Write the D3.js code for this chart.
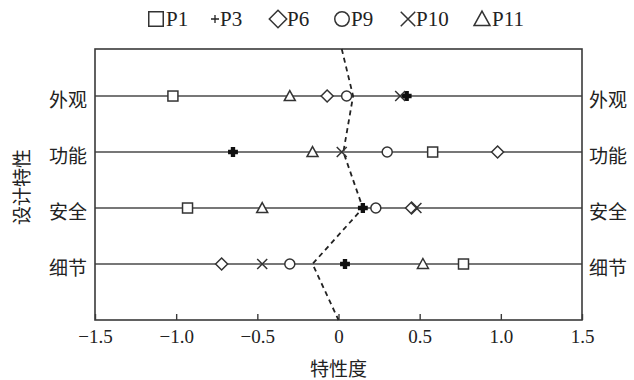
<!DOCTYPE html>
<html>
<head>
<meta charset="utf-8">
<script src="https://cdn.jsdelivr.net/npm/d3@7"></script>
<style>
  body { margin: 0; background: #fff; }
  svg { display: block; }
</style>
</head>
<body>
<div id="chart"></div>
<script>
const categories = ['外观', '功能', '安全', '细节'];
const seriesNames = ['P1', 'P3', 'P6', 'P9', 'P10', 'P11'];
const p1 = [-1.02, 0.58, -0.93, 0.77];
const p3 = [0.42, -0.65, 0.15, 0.04];
const p6 = [-0.07, 0.98, 0.45, -0.72];
const p9 = [0.05, 0.30, 0.23, -0.30];
const p10 = [0.38, 0.02, 0.48, -0.47];
const p11 = [-0.30, -0.16, -0.47, 0.52];
// dashed reference line: top edge, four rows, bottom edge
const dashValues = [0.02, 0.09, 0.03, 0.15, -0.16, 0.0];
const xTicks = [-1.5, -1.0, -0.5, 0, 0.5, 1.0, 1.5];
const xTickLabels = ['\u22121.5', '\u22121.0', '\u22120.5', '0', '0.5', '1.0', '1.5'];

const seriesValues = [p1, p3, p6, p9, p10, p11];
const symbols = ['square', 'plus', 'diamond', 'circle', 'cross', 'triangle'];

const width = 634, height = 380;
const margin = { top: 49, right: 52, bottom: 60, left: 95 };

const serif = '"Liberation Serif", "Times New Roman", serif';
const cjk = '"Noto Sans CJK SC", sans-serif';

const svg = d3.select('#chart').append('svg')
  .attr('width', width)
  .attr('height', height);

const x = d3.scaleLinear()
  .domain([-1.5, 1.5])
  .range([margin.left, width - margin.right]);

// row index -> pixel; rows sit at 1..4
const y = d3.scaleLinear()
  .domain([0.16, 5])
  .range([margin.top, height - margin.bottom]);

const g = svg.append('g');

// row lines
g.selectAll('.row')
  .data(categories)
  .enter().append('line')
  .attr('x1', x(-1.5))
  .attr('x2', x(1.5))
  .attr('y1', (d, i) => y(i + 1))
  .attr('y2', (d, i) => y(i + 1))
  .attr('stroke', '#4a4a4a')
  .attr('stroke-width', 1.5);

// frame
g.append('rect')
  .attr('x', x(-1.5))
  .attr('y', y(0.16))
  .attr('width', x(1.5) - x(-1.5))
  .attr('height', y(5) - y(0.16))
  .attr('fill', 'none')
  .attr('stroke', '#3a3a3a')
  .attr('stroke-width', 1.6);

// bottom axis, ticks pointing inward
g.append('g')
  .attr('transform', 'translate(0,' + y(5) + ')')
  .call(d3.axisBottom(x).tickValues(xTicks).tickSize(-6).tickPadding(10)
    .tickFormat((d, i) => xTickLabels[i]))
  .call(ax => ax.select('.domain').remove())
  .call(ax => ax.selectAll('line').attr('stroke', '#3a3a3a').attr('stroke-width', 1.4))
  .call(ax => ax.selectAll('text')
    .style('font-family', serif)
    .style('font-size', '19px')
    .attr('fill', '#222'));

// dashed line
const dashY = [0.16, 1, 2, 3, 4, 5];
g.append('path')
  .datum(dashValues)
  .attr('fill', 'none')
  .attr('stroke', '#222')
  .attr('stroke-width', 1.8)
  .attr('stroke-dasharray', '5,4')
  .attr('d', d3.line()
    .x(d => x(d))
    .y((d, i) => y(dashY[i])));

function drawSymbol(sel, type, k) {
  const sw = 1.5;
  if (type === 'square') {
    sel.append('rect').attr('x', -5 * k).attr('y', -5 * k).attr('width', 10 * k).attr('height', 10 * k)
      .attr('fill', '#fff').attr('stroke', '#333').attr('stroke-width', sw);
  } else if (type === 'plus') {
    sel.append('path').attr('d', d3.symbol(d3.symbolCross, 38)())
      .attr('fill', '#111').attr('stroke', '#111').attr('stroke-width', 1.6);
  } else if (type === 'plusLine') {
    sel.append('path').attr('d', 'M-4,0L4,0M0,-4L0,4')
      .attr('stroke', '#222').attr('stroke-width', 1.3);
  } else if (type === 'diamond') {
    sel.append('path').attr('d', 'M0,' + (-6 * k) + 'L' + (6 * k) + ',0L0,' + (6 * k) + 'L' + (-6 * k) + ',0Z')
      .attr('fill', '#fff').attr('stroke', '#333').attr('stroke-width', sw);
  } else if (type === 'circle') {
    sel.append('circle').attr('r', 5 * k)
      .attr('fill', '#fff').attr('stroke', '#333').attr('stroke-width', sw);
  } else if (type === 'cross') {
    sel.append('path').attr('d', 'M' + (-5 * k) + ',' + (-5 * k) + 'L' + (5 * k) + ',' + (5 * k) +
        'M' + (-5 * k) + ',' + (5 * k) + 'L' + (5 * k) + ',' + (-5 * k))
      .attr('fill', 'none').attr('stroke', '#333').attr('stroke-width', sw);
  } else if (type === 'triangle') {
    sel.append('path').attr('d', 'M0,' + (-5.5 * k) + 'L' + (5.5 * k) + ',' + (4.5 * k) + 'L' + (-5.5 * k) + ',' + (4.5 * k) + 'Z')
      .attr('fill', '#fff').attr('stroke', '#333').attr('stroke-width', sw);
  }
}

// markers
seriesValues.forEach((vals, s) => {
  vals.forEach((v, i) => {
    const m = g.append('g')
      .attr('transform', 'translate(' + x(v) + ',' + y(i + 1) + ')');
    drawSymbol(m, symbols[s], 1);
  });
});

// category labels both sides
categories.forEach((c, i) => {
  g.append('text')
    .attr('x', x(-1.5) - 8)
    .attr('y', y(i + 1) + 11)
    .attr('text-anchor', 'end')
    .style('font-family', cjk)
    .style('font-size', '19px')
    .attr('fill', '#222')
    .text(c);
  g.append('text')
    .attr('x', x(1.5) + 7)
    .attr('y', y(i + 1) + 11)
    .attr('text-anchor', 'start')
    .style('font-family', cjk)
    .style('font-size', '19px')
    .attr('fill', '#222')
    .text(c);
});

// axis titles
svg.append('text')
  .attr('x', x(0))
  .attr('y', 376)
  .attr('text-anchor', 'middle')
  .style('font-family', cjk)
  .style('font-size', '19px')
  .attr('fill', '#222')
  .text('特性度');

svg.append('text')
  .attr('transform', 'translate(29,' + 187 + ') rotate(-90)')
  .attr('text-anchor', 'middle')
  .style('font-family', cjk)
  .style('font-size', '19px')
  .attr('fill', '#222')
  .text('设计特性');

// legend
const legendX = [156, 215, 278, 342, 408, 482];
const legendTextX = [166, 220, 287, 351, 416, 492];
const legend = svg.append('g');
seriesNames.forEach((name, i) => {
  const item = legend.append('g')
    .attr('transform', 'translate(' + legendX[i] + ',19)');
  drawSymbol(item, symbols[i] === 'plus' ? 'plusLine' : symbols[i], 1.45);
  legend.append('text')
    .attr('x', legendTextX[i])
    .attr('y', 26)
    .style('font-family', serif)
    .style('font-size', '21px')
    .attr('fill', '#222')
    .text(name);
});
</script>
</body>
</html>
